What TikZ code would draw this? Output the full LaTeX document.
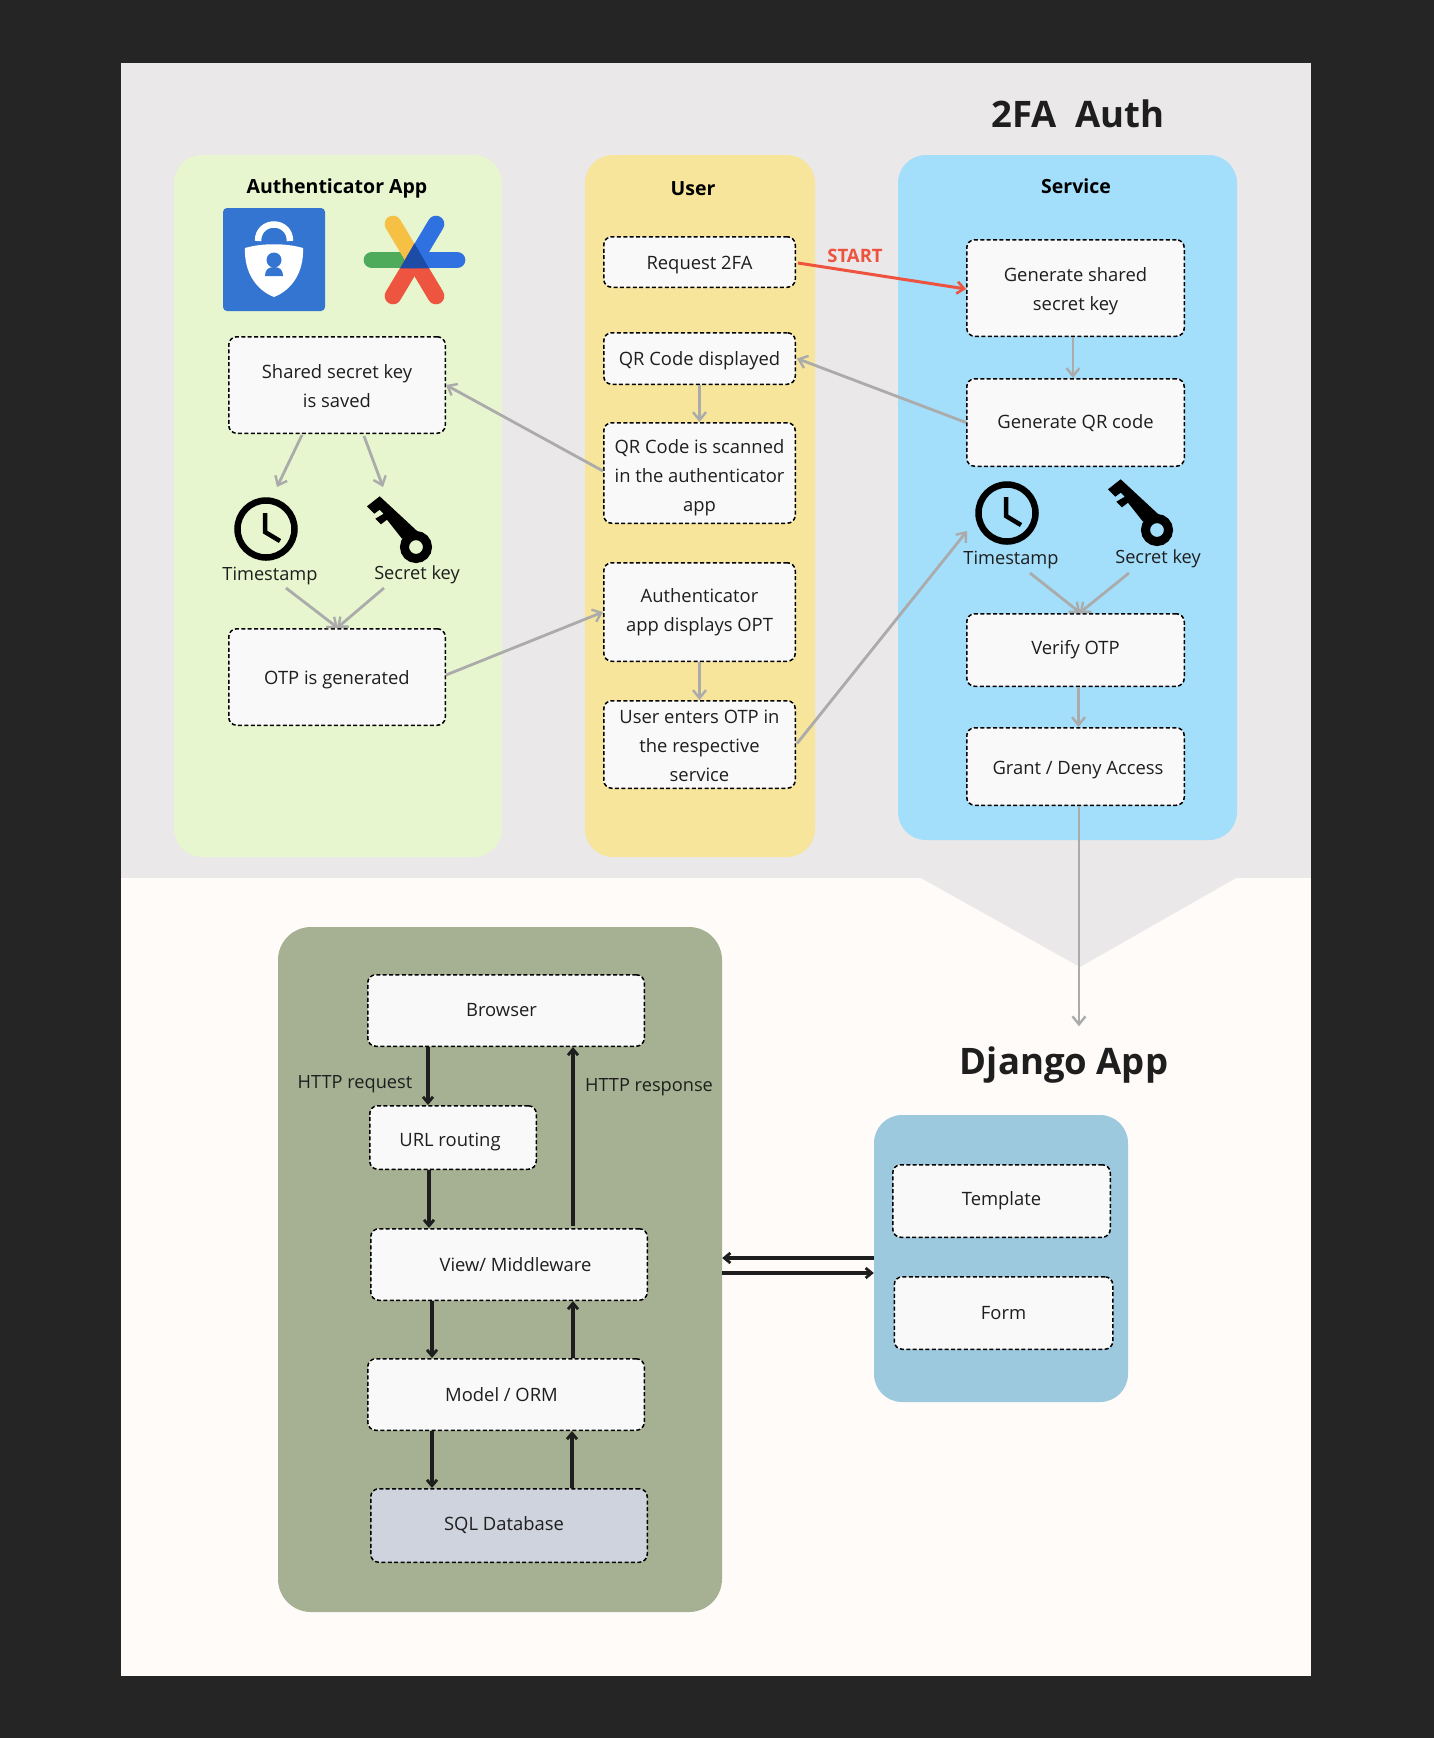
\documentclass[tikz,border=0pt]{standalone}
\usepackage{fontspec}
\setsansfont{Open Sans}
\usetikzlibrary{arrows.meta,calc}
\definecolor{faink}{HTML}{1E1E1E}
\definecolor{fadark}{HTML}{252525}
\definecolor{fagrey}{HTML}{EAE8E9}
\definecolor{fapaper}{HTML}{FEFBF9}
\definecolor{fagreen}{HTML}{E7F6CE}
\definecolor{fayellow}{HTML}{F6E59B}
\definecolor{fasky}{HTML}{A3DEFB}
\definecolor{faolive}{HTML}{A5B192}
\definecolor{fadusty}{HTML}{9CC9DD}
\definecolor{fabox}{HTML}{F9F9F9}
\definecolor{fadb}{HTML}{CFD3DE}
\definecolor{faline}{HTML}{ABABAB}
\definecolor{fared}{HTML}{EE5340}
\definecolor{fablue}{HTML}{3375D1}
\definecolor{stargreen}{HTML}{4EAB5C}
\definecolor{staryellow}{HTML}{F6C045}
\definecolor{starred}{HTML}{ED5540}
\definecolor{starblue}{HTML}{3071E2}
\definecolor{starcore}{HTML}{1C4CA5}
\newcommand{\dropby}[1]{\rule{0pt}{\dimexpr 14pt+#1pt+#1pt\relax}}
\tikzset{
  fa text/.style={font=\sffamily, text=faink},
  fa panel/.style={rounded corners=28pt, inner sep=0pt},
  fa box/.style={draw=black, line width=1.5pt, dash pattern=on 4pt off 2.4pt,
    rounded corners=8pt, fill=fabox, align=center, inner sep=0pt,
    font=\sffamily\fontsize{18.4}{29.2}\selectfont},
  fa arrow/.style={-{Straight Barb[length=8pt,width=13pt,line width=2.4pt]},
    line width=2.8pt, draw=faline},
  fa red arrow/.style={-{Straight Barb[length=7pt,width=12pt,line width=2.6pt]},
    line width=3pt, draw=fared},
  fa dark arrow/.style={-{Straight Barb[length=6pt,width=10pt,line width=2.8pt]},
    line width=3.2pt, draw=faink},
  fa label/.style={font=\sffamily\fontsize{18.2}{22}\selectfont, text=faink},
  fa head/.style={font=\sffamily\bfseries\fontsize{19.5}{24}\selectfont, text=black},
  fa title/.style={font=\sffamily\bfseries\fontsize{36.5}{44}\selectfont, text=faink},
  pics/clockicon/.style={code={
    \draw[black, line width=6.5pt] (0,0) circle[radius=28.5];
    \draw[black, line width=4.5pt] (-1,-16) -- (-1,3) -- (14,12);
  }},
  pics/keyicon/.style={code={
    \draw[black, line width=9pt] (0,0) circle[radius=11.5];
    \fill[black] (-36.3,-50.7) -- (-49,-40.7) -- (-41.7,-33.3) -- (-36.3,-37.3)
      -- (-32.3,-33.3) -- (-40.7,-28.3) -- (-35,-22.7) -- (-29,-27.3)
      -- (-14,-8.3) -- (4,-13.3) -- cycle;
  }}
}
\begin{document}
\begin{tikzpicture}[fa text, x=1pt, y=-1pt]
  \useasboundingbox (0,0) rectangle (1434,1738);
  \fill[fadark] (0,0) rectangle (1434,1738);
  \fill[fagrey] (121,63) rectangle (1311,878);
  \fill[fapaper] (121,878) rectangle (1311,1676);
  \fill[fagrey] (921,878) -- (1236,878) -- (1080,967) -- cycle;

  \node[fa title] (twofa) at (1078,114) {2FA\ \ Auth};
  \node[fa title] (django) at (1064,1065) {Django App};

  \node[fa panel, fill=fagreen, minimum width=328, minimum height=702] (authpanel) at (338,506) {};
  \node[fa panel, fill=fayellow, minimum width=230, minimum height=702] (userpanel) at (700,506) {};
  \node[fa panel, fill=fasky, minimum width=339, minimum height=685] (servicepanel) at (1067.5,497.5) {};
  \node[fa panel, fill=faolive, rounded corners=33pt, minimum width=444, minimum height=685] (djangopanel) at (500,1269.5) {};
  \node[fa panel, fill=fadusty, minimum width=254, minimum height=287] (formpanel) at (1001,1258.5) {};

  \node[fa head] (authhead) at (337,188) {Authenticator App};
  \node[fa head] (userhead) at (693,189) {User};
  \node[fa head] (servicehead) at (1076,186) {Service};

  \fill[fablue, rounded corners=4pt] (223,208) rectangle (325,311);
  \fill[white] (245,248) .. controls (262,243) and (286,243) .. (303,248)
    .. controls (304,272) and (292,290) .. (274,297)
    .. controls (256,290) and (244,272) .. (245,248) -- cycle;
  \draw[white, line width=6.5pt] (258,241) .. controls (258,219) and (290,219) .. (290,241);
  \fill[fablue] (274,260) circle[radius=7.5];
  \fill[fablue] (265,276) .. controls (265,270) and (268,267) .. (274,267)
    .. controls (280,267) and (283,270) .. (283,276) -- cycle;

  \begin{scope}[line width=16.7pt, line cap=round]
    \draw[stargreen] (414.5,260) -- (372,260);
    \draw[staryellow] (414.5,260) -- (393,224);
    \draw[starred] (414.5,260) -- (393,296);
    \draw[starred] (414.5,260) -- (436,296);
    \draw[starblue] (414.5,260) -- (436,224);
    \draw[starblue] (414.5,260) -- (457,260);
  \end{scope}
  \fill[starcore] (414.5,243.3) -- (400,268.4) -- (429,268.4) -- cycle;

  \node[fa box, minimum width=216.5, minimum height=96.5] (shared) at (337,385) {\dropby{1}Shared secret key\\is saved};
  \node[fa box, minimum width=216.5, minimum height=96.5] (otp) at (337,677) {\dropby{3}OTP is generated};
  \coordinate (authclock) at (266,529);
  \coordinate (authkey) at (416,547);
  \pic at (authclock) {clockicon};
  \pic at (authkey) {keyicon};
  \node[fa label] (authtime) at (270,576) {Timestamp};
  \node[fa label] (authsecret) at (417,575) {Secret key};

  \node[fa box, minimum width=191.5, minimum height=50.5] (request) at (699.5,262) {\dropby{3}Request 2FA};
  \node[fa box, minimum width=191.5, minimum height=51.5] (displayed) at (699.5,358.5) {\dropby{2}QR Code displayed};
  \node[fa box, minimum width=191.5, minimum height=100.5] (scanned) at (699.5,473) {\dropby{5}QR Code is scanned\\in the authenticator\\app};
  \node[fa box, minimum width=191.5, minimum height=98.5] (appotp) at (699.5,612) {Authenticator\\app displays OPT};
  \node[fa box, minimum width=191.5, minimum height=87.5] (enters) at (699.5,744.5) {\dropby{1}User enters OTP in\\the respective\\service};

  \node[fa box, minimum width=217.5, minimum height=96.5] (genkey) at (1075.5,288) {\dropby{3}Generate shared\\secret key};
  \node[fa box, minimum width=217.5, minimum height=87.5] (genqr) at (1075.5,422.5) {\dropby{1}Generate QR code};
  \coordinate (serviceclock) at (1007,513);
  \coordinate (servicekey) at (1157,530);
  \pic at (serviceclock) {clockicon};
  \pic at (servicekey) {keyicon};
  \node[fa label] (servicetime) at (1011,560) {Timestamp};
  \node[fa label] (servicesecret) at (1158,559) {Secret key};
  \node[fa box, minimum width=217.5, minimum height=72.5] (verify) at (1075.5,650) {Verify OTP};
  \node[fa box, minimum width=217.5, minimum height=77.5] (grant) at (1075.5,766.5) {\dropby{3}\hspace*{5pt}Grant / Deny Access};

  \node[fa box, minimum width=276.5, minimum height=71.5] (browser) at (506,1010.5) {\hspace*{-9pt}Browser};
  \node[fa box, minimum width=166.5, minimum height=63.5] (urlrouting) at (453,1137.5) {\dropby{4}\hspace*{-6pt}URL routing};
  \node[fa box, minimum width=276.5, minimum height=71.5] (view) at (509,1264.5) {\hspace*{13pt}View/ Middleware};
  \node[fa box, minimum width=276.5, minimum height=71.5] (model) at (506,1394.5) {\hspace*{-9pt}Model / ORM};
  \node[fa box, fill=fadb, minimum width=276.5, minimum height=73.5] (sqldb) at (509,1525.5) {\hspace*{-10pt}SQL Database};
  \node[fa box, minimum width=217.5, minimum height=72.5] (template) at (1001.5,1201) {Template};
  \node[fa box, minimum width=218.5, minimum height=72.5] (form) at (1003.5,1313) {Form};

  \node[fa label] (httpreq) at (355,1084) {HTTP request};
  \node[fa label] (httpres) at (649,1087) {HTTP response};
  \node[font=\sffamily\bfseries\fontsize{18.5}{22}\selectfont, text=fared] (start) at (855,256) {START};

  \draw[fa red arrow] ($(request.east)+(2,1)$) -- ($(genkey.west)+(0,1)$);
  \draw[fa arrow] ($(genkey.south)+(-2.5,0)$) -- ($(genqr.north)+(-2.5,0)$);
  \draw[fa arrow] (genqr.west) -- ($(displayed.east)+(1,0)$);
  \draw[fa arrow] (displayed.south) -- (scanned.north);
  \draw[fa arrow] ($(scanned.west)+(0,-2)$) -- (shared.east);
  \draw[fa arrow] ($(otp.east)+(0,-2)$) -- (appotp.west);
  \draw[fa arrow] (appotp.south) -- (enters.north);
  \draw[fa arrow] ($(enters.east)+(1,-1)$) -- ($(serviceclock)+(-40,18)$);
  \draw[fa arrow] ($(shared.south)+(-35,1)$) -- ($(authclock)+(11,-42)$);
  \draw[fa arrow] ($(shared.south)+(27,2)$) -- ($(authkey)+(-33,-60)$);
  \draw[fa arrow] ($(authtime)+(16,12)$) -- ($(otp.north)+(1,0)$);
  \draw[fa arrow] ($(authsecret)+(-33,13)$) -- (otp.north);
  \draw[fa arrow] ($(servicetime)+(19,13)$) -- ($(verify.north)+(5,0)$);
  \draw[fa arrow] ($(servicesecret)+(-29,14)$) -- ($(verify.north)+(4,0)$);
  \draw[fa arrow] ($(verify.south)+(3,0)$) -- ($(grant.north)+(3,0)$);
  \draw[fa arrow] ($(grant.south)+(3.5,0)$) -- ($(django.north)+(15,-17)$);

  \draw[fa dark arrow] ($(browser.south)+(-78,0)$) -- ($(urlrouting.north)+(-25,0)$);
  \draw[fa dark arrow] ($(urlrouting.south)+(-24,0)$) -- ($(view.north)+(-80,0)$);
  \draw[fa dark arrow] ($(view.north)+(64,-2)$) -- ($(browser.south)+(67,0)$);
  \draw[fa dark arrow] ($(view.south)+(-77,0)$) -- ($(model.north)+(-74,0)$);
  \draw[fa dark arrow] ($(model.north)+(67,0)$) -- ($(view.south)+(64,0)$);
  \draw[fa dark arrow] ($(model.south)+(-74,0)$) -- ($(sqldb.north)+(-77,0)$);
  \draw[fa dark arrow] ($(sqldb.north)+(63,0)$) -- ($(model.south)+(66,0)$);
  \draw[fa dark arrow] ($(formpanel.west)+(0,-0.5)$) -- ($(djangopanel.east)+(0,-11.5)$);
  \draw[fa dark arrow] ($(djangopanel.east)+(0,3.5)$) -- ($(formpanel.west)+(0,14.5)$);
\end{tikzpicture}
\end{document}
